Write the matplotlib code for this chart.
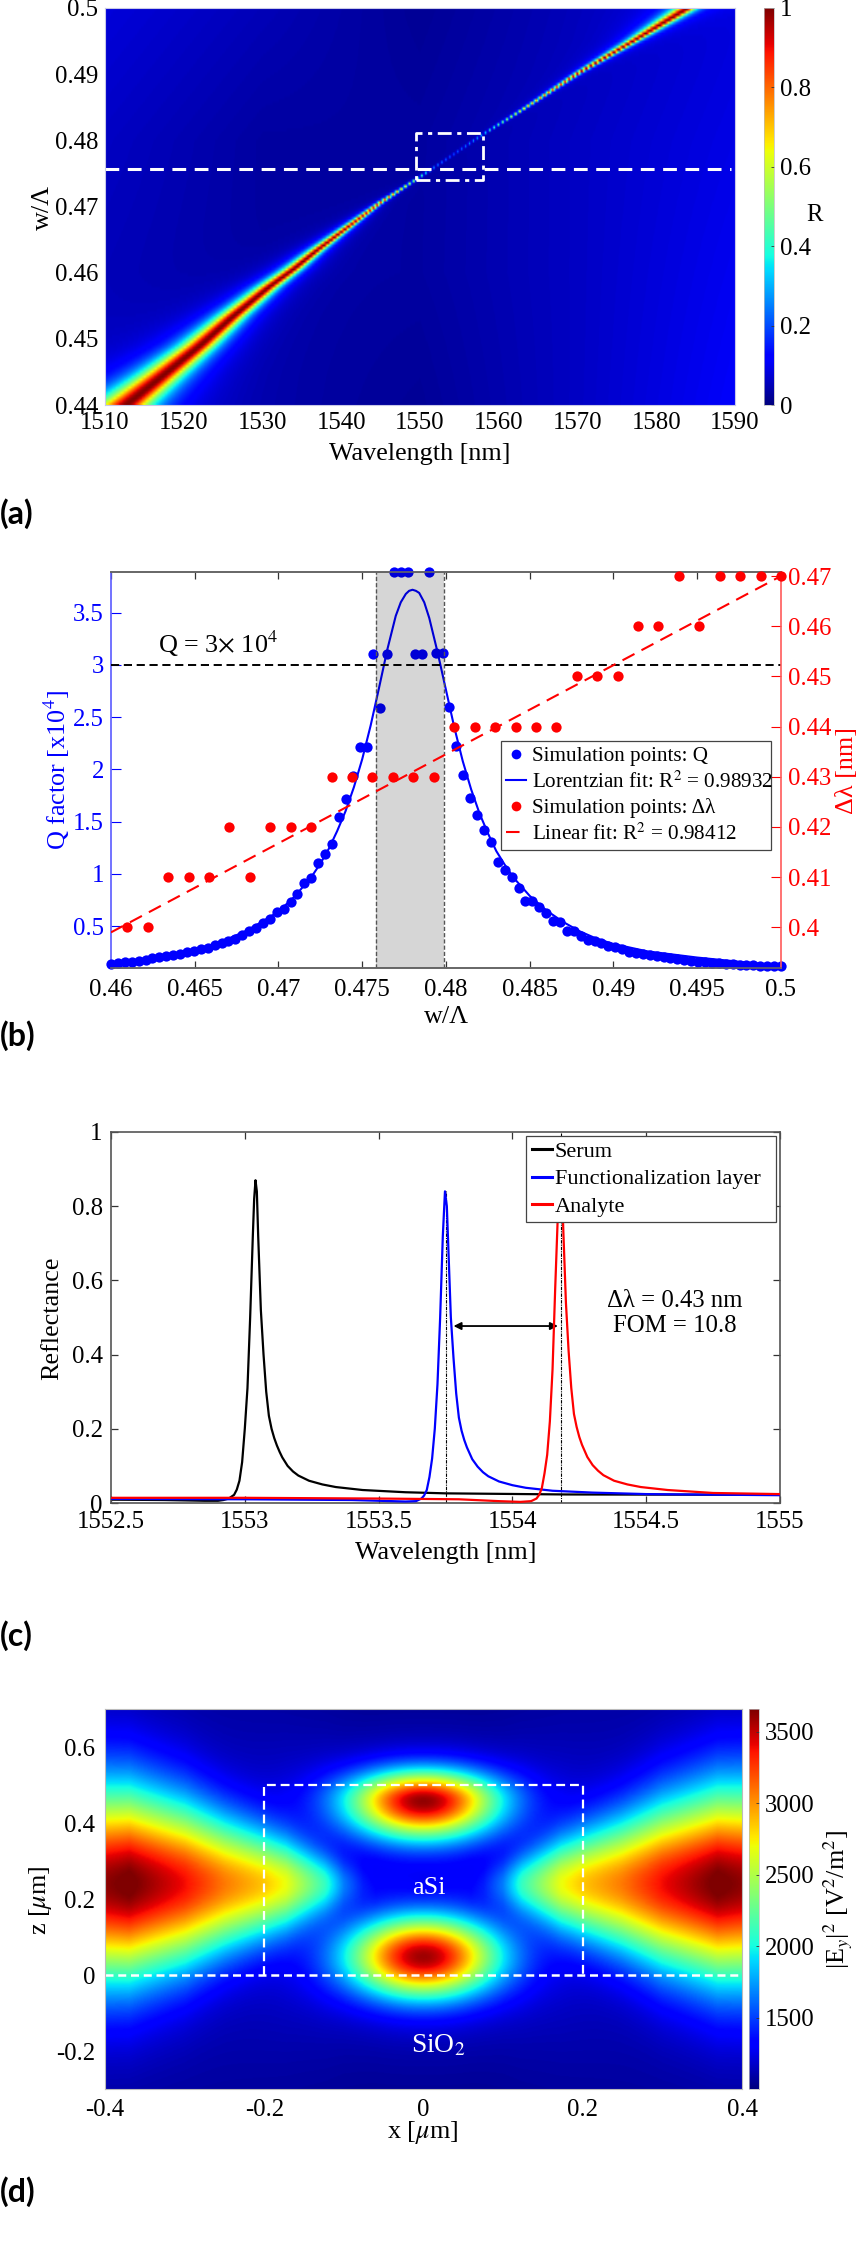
import numpy as np
import matplotlib
matplotlib.use('Agg')
import matplotlib.pyplot as plt
from matplotlib.lines import Line2D

plt.rcParams['font.family'] = ['Liberation Serif', 'DejaVu Serif']
plt.rcParams['mathtext.fontset'] = 'stix'
plt.rcParams['axes.unicode_minus'] = False

W, H = 861, 2241
FS = 17.8
LS = 18.8

# ---------- (a) ridge ----------
ridge_w = [0.44, 0.4444, 0.4488, 0.4533, 0.4577, 0.4605, 0.4633, 0.467, 0.4705, 0.474, 0.476, 0.478, 0.4808, 0.4846, 0.4904, 0.4950, 0.4994, 0.5]
ridge_lam = [1512.9, 1517.5, 1522.06, 1526.3, 1530.8, 1534.0, 1536.9, 1541.0, 1544.9, 1549.4, 1551.9, 1554.4, 1557.8, 1562.9, 1570.3, 1576.9, 1583.0, 1583.8]
ridge_hw = [3.0, 2.4, 1.9, 1.5, 1.15, 0.95, 0.75, 0.5, 0.27, 0.13, 0.09, 0.09, 0.10, 0.16, 0.3, 0.6, 1.05, 1.1]
ridge_peak = [1.0, 1.0, 1.0, 1.0, 1.0, 1.0, 1.0, 0.97, 0.87, 0.55, 0.25, 0.2, 0.3, 0.65, 0.95, 0.99, 1.0, 1.0]
bg_w = [0.44, 0.46, 0.48, 0.5]
bg_lam = [1510, 1530, 1550, 1570, 1590]
bg_vals = [[0.05, 0.03, 0.02, 0.06, 0.11],
           [0.05, 0.03, 0.03, 0.06, 0.10],
           [0.06, 0.03, 0.03, 0.06, 0.09],
           [0.08, 0.05, 0.02, 0.05, 0.08]]
cut_w = 0.4756
box_lam = [1549.5, 1558.0]
box_w = [0.474, 0.4811]

# ---------- (b) ----------
q_step_start, q_step_stop = 0.46, 0.5
q_vals = [0.139, 0.148, 0.155, 0.161, 0.171, 0.177, 0.193, 0.203, 0.212, 0.225, 0.235, 0.251, 0.260, 0.279, 0.295,
          0.318, 0.337, 0.356, 0.379, 0.420, 0.452, 0.484, 0.532, 0.567, 0.637, 0.666, 0.733, 0.807, 0.909, 0.963,
          1.104, 1.190, 1.286, 1.548, 1.721, 1.938, 2.216, 2.216, 3.105, 2.587, 3.105, 3.888, 3.888, 3.888, 3.105,
          3.105, 3.888, 3.117, 3.117, 2.597, 2.226, 1.948, 1.730, 1.561, 1.420, 1.302, 1.114, 1.040, 0.973, 0.864,
          0.740, 0.740, 0.682, 0.625, 0.554, 0.542, 0.458, 0.452, 0.407, 0.372, 0.363, 0.337, 0.315, 0.299, 0.286,
          0.257, 0.241, 0.232, 0.225, 0.212, 0.203, 0.196, 0.187, 0.177, 0.168, 0.161, 0.158, 0.152, 0.145, 0.139,
          0.136, 0.132, 0.129, 0.126, 0.123, 0.120, 0.116, 0.116]
fit_w = [0.46, 0.462, 0.464, 0.465, 0.466, 0.467, 0.468, 0.469, 0.47, 0.471, 0.472, 0.4725, 0.473, 0.4735, 0.474,
         0.4745, 0.475, 0.4755, 0.476, 0.4765, 0.477, 0.4773, 0.4776, 0.4778, 0.478, 0.4782, 0.4784, 0.4787, 0.479,
         0.4795, 0.48, 0.4805, 0.481, 0.4815, 0.482, 0.4825, 0.483, 0.4835, 0.484, 0.485, 0.486, 0.487, 0.488,
         0.489, 0.49, 0.492, 0.495, 0.5]
fit_q = [0.14, 0.18, 0.24, 0.28, 0.32, 0.38, 0.45, 0.54, 0.64, 0.79, 0.98, 1.10, 1.24, 1.41, 1.60,
         1.83, 2.10, 2.42, 2.78, 3.15, 3.47, 3.60, 3.68, 3.71, 3.72, 3.71, 3.69, 3.60, 3.45,
         3.12, 2.76, 2.40, 2.08, 1.81, 1.58, 1.39, 1.22, 1.09, 0.97, 0.79, 0.65, 0.54, 0.45,
         0.38, 0.33, 0.26, 0.20, 0.12]
dl_w = [0.46098, 0.4622, 0.46342, 0.46463, 0.46585, 0.46707, 0.46829, 0.46951, 0.47073, 0.47195, 0.47317, 0.47439,
        0.47561, 0.47683, 0.47805, 0.47927, 0.48049, 0.48171, 0.48293, 0.48415, 0.48537, 0.48659, 0.4878, 0.48902,
        0.49024, 0.49146, 0.49268, 0.4939, 0.49512, 0.49634, 0.49756, 0.49878, 0.5]
dl_vals = [0.40, 0.40, 0.41, 0.41, 0.41, 0.42, 0.41, 0.42, 0.42, 0.42, 0.43, 0.43, 0.43, 0.43, 0.43, 0.43, 0.44,
           0.44, 0.44, 0.44, 0.44, 0.44, 0.45, 0.45, 0.45, 0.46, 0.46, 0.47, 0.46, 0.47, 0.47, 0.47, 0.47]
lin_w = [0.46, 0.5]
lin_dl = [0.399, 0.47]
span_w = [0.4758, 0.4799]

# ---------- (c) ----------
serum_x = [1552.5, 1552.7, 1552.85, 1552.9, 1552.92, 1552.94, 1552.96, 1552.97, 1552.98, 1552.99, 1553.0, 1553.01,
           1553.02, 1553.03, 1553.035, 1553.04, 1553.045, 1553.05, 1553.055, 1553.06, 1553.07, 1553.08, 1553.09,
           1553.10, 1553.11, 1553.12, 1553.13, 1553.14, 1553.16, 1553.18, 1553.2, 1553.24, 1553.29, 1553.34,
           1553.44, 1553.6, 1553.75, 1554.2, 1555]
serum_r = [0.009, 0.008, 0.006, 0.006, 0.008, 0.012, 0.022, 0.036, 0.06, 0.11, 0.20, 0.31, 0.50, 0.72, 0.82, 0.87,
           0.84, 0.72, 0.62, 0.52, 0.40, 0.30, 0.235, 0.20, 0.175, 0.155, 0.138, 0.123, 0.10, 0.085, 0.074, 0.06,
           0.05, 0.043, 0.035, 0.029, 0.026, 0.023, 0.022]
func_x = [1552.5, 1553.0, 1553.4, 1553.55, 1553.6, 1553.64, 1553.66, 1553.67, 1553.68, 1553.69, 1553.70, 1553.71,
          1553.72, 1553.73, 1553.74, 1553.748, 1553.755, 1553.76, 1553.77, 1553.78, 1553.79, 1553.80, 1553.81,
          1553.82, 1553.83, 1553.85, 1553.87, 1553.89, 1553.91, 1553.95, 1554.0, 1554.05, 1554.15, 1554.3, 1554.5, 1555]
func_r = [0.011, 0.010, 0.008, 0.005, 0.004, 0.005, 0.012, 0.02, 0.035, 0.07, 0.12, 0.20, 0.32, 0.50, 0.72, 0.84,
          0.80, 0.70, 0.50, 0.39, 0.295, 0.23, 0.195, 0.17, 0.15, 0.118, 0.098, 0.083, 0.072, 0.058, 0.048, 0.041,
          0.033, 0.028, 0.024, 0.021]
analyte_x = [1552.5, 1553.0, 1553.5, 1553.8, 1553.95, 1554.03, 1554.07, 1554.09, 1554.10, 1554.11, 1554.12, 1554.13,
             1554.14, 1554.15, 1554.16, 1554.17, 1554.18, 1554.185, 1554.19, 1554.20, 1554.21, 1554.22, 1554.23,
             1554.24, 1554.25, 1554.26, 1554.28, 1554.30, 1554.32, 1554.34, 1554.38, 1554.43, 1554.48, 1554.58,
             1554.75, 1555]
analyte_r = [0.014, 0.014, 0.012, 0.010, 0.005, 0.003, 0.005, 0.012, 0.022, 0.04, 0.08, 0.13, 0.22, 0.36, 0.58,
             0.78, 0.90, 0.86, 0.74, 0.54, 0.41, 0.31, 0.24, 0.205, 0.178, 0.157, 0.124, 0.102, 0.087, 0.075, 0.06,
             0.05, 0.043, 0.035, 0.027, 0.024]
peak_marks = [1553.75, 1554.18]
peak_tops = [0.84, 1.0]
arrow_x = [1553.78, 1554.17]
arrow_r = 0.477

lobe_x = [0, 0.06, 0.076, 0.1, 0.124, 0.173, 0.2, 0.25, 0.3, 0.37, 0.4]
lobe_g = [0, 0.03, 0.07, 0.18, 0.36, 0.6, 0.67, 0.76, 0.88, 1.0, 0.97]
lobe_s = [0.03, 0.035, 0.04, 0.048, 0.058, 0.085, 0.098, 0.122, 0.148, 0.172, 0.175]
lobe_z = 0.24
blob_z = [0.458, 0.048]
blob_peak = [0.88, 0.87]
blob_sx = [0.066, 0.066]
blob_up = [0.056, 0.072]
blob_dn = [0.068, 0.075]
blob_tail = 0.085
field_min, field_max = 1000, 3660
core_x = [-0.2, 0.2]
core_z = [0.0, 0.5]


def fig_xy(x, y):
    return x / W, 1 - y / H


def add_axes(l, t, r, b):
    return fig.add_axes([l / W, 1 - b / H, (r - l) / W, (b - t) / H])


def place_labels(ax, xpos=None, ypos=None):
    if xpos:
        ax.xaxis.set_label_coords(*fig_xy(*xpos), transform=fig.transFigure)
        ax.xaxis.label.set_verticalalignment('center')
    if ypos:
        ax.yaxis.set_label_coords(*fig_xy(*ypos), transform=fig.transFigure)
        ax.yaxis.label.set_verticalalignment('center')


def style_spines(ax, color='#777777', lw=1.0):
    for s in ax.spines.values():
        s.set_color(color)
        s.set_linewidth(lw)


def make_cbar(l, t, r, b, vmin, vmax, ticks, labels):
    cax = add_axes(l, t, r, b)
    grad = np.linspace(vmin, vmax, 256)[:, None]
    cax.imshow(grad, origin='lower', aspect='auto', cmap='jet', extent=[0, 1, vmin, vmax], vmin=vmin, vmax=vmax)
    cax.set_xticks([])
    cax.yaxis.tick_right()
    cax.set_yticks(ticks)
    cax.set_yticklabels(labels, fontsize=FS)
    cax.tick_params(axis='y', direction='in', length=2.5, width=0.6, pad=4, color='#333333')
    style_spines(cax, '#bbbbbb', 0.5)
    return cax


fig = plt.figure(figsize=(W / 100, H / 100), dpi=100)

# ===== (a) =====
axa = add_axes(105, 8, 735, 405)
lam = np.arange(1510, 1590.01, 0.1)
rows = np.arange(0.44, 0.5002, 0.000408)
field_a = np.zeros((rows.size, lam.size))
bg_col = np.array([np.interp(lam, bg_lam, v) for v in bg_vals])
for i, w_ in enumerate(rows):
    c = np.interp(w_, ridge_w, ridge_lam)
    g = np.interp(w_, ridge_w, ridge_hw)
    p = np.interp(w_, ridge_w, ridge_peak)
    d = lam - c
    gg = np.where(d < 0, g * 1.3, g)
    base = np.array([np.interp(w_, bg_w, bg_col[:, j]) for j in range(lam.size)])
    rr = p / (1 + (d / gg) ** 2) ** 1.25
    field_a[i] = rr + base * (1 - rr)
axa.imshow(field_a, origin='lower', aspect='auto', cmap='jet', vmin=0, vmax=1,
           extent=[1510, 1590, 0.44, 0.5], interpolation='bilinear')
axa.plot([1510, 1589.5], [cut_w, cut_w], color='white', lw=2.2, dashes=(4.5, 2.8))
axa.plot([box_lam[0], box_lam[1], box_lam[1], box_lam[0], box_lam[0]],
         [box_w[0], box_w[0], box_w[1], box_w[1], box_w[0]], color='white', lw=2.0,
         dashes=(5, 2, 1.5, 2))
axa.set_xlim(1510, 1590)
axa.set_ylim(0.44, 0.5)
axa.set_xticks(range(1510, 1591, 10))
axa.set_yticks([0.44, 0.45, 0.46, 0.47, 0.48, 0.49, 0.5])
axa.set_yticklabels(['0.44', '0.45', '0.46', '0.47', '0.48', '0.49', '0.5'])
axa.tick_params(labelsize=FS, length=0, pad=5)
axa.set_xlabel('Wavelength [nm]', fontsize=LS)
axa.set_ylabel('w/\u039b', fontsize=LS)
place_labels(axa, (420, 454), (43, 207))
style_spines(axa, '#c8c8e8', 0.8)
make_cbar(764, 8, 774, 405, 0, 1, [0, 0.2, 0.4, 0.6, 0.8, 1], ['0', '0.2', '0.4', '0.6', '0.8', '1'])
fig.text(*fig_xy(815, 215), 'R', fontsize=FS, ha='center', va='center')

# ===== (b) =====
axb = add_axes(111, 572, 781, 968)
q_w = np.linspace(q_step_start, q_step_stop, len(q_vals))
blue = '#0000ff'
red = '#ff0000'
axb.plot(fit_w, fit_q, color=blue, lw=1.5, zorder=2)
axb.plot(q_w, q_vals, 'o', color=blue, ms=7.4, mec='none', zorder=3, clip_on=False)
axb.axvspan(span_w[0], span_w[1], facecolor='#000000', alpha=0.16, zorder=4, lw=0)
for v in span_w:
    axb.axvline(v, color='#555555', lw=1.0, dashes=(3, 1.5), zorder=5)
axb.axhline(3, color='black', lw=1.4, dashes=(4.2, 2.4), zorder=5)
axb.text(0.4628, 3.2, r'Q = 3$\times$ 10$^4$', fontsize=LS, ha='left', va='center', zorder=6)
axb.set_xlim(0.46, 0.5)
axb.set_ylim(0.1, 3.89)
axb.set_xticks([0.46, 0.465, 0.47, 0.475, 0.48, 0.485, 0.49, 0.495, 0.5])
axb.set_xticklabels(['0.46', '0.465', '0.47', '0.475', '0.48', '0.485', '0.49', '0.495', '0.5'])
axb.set_yticks([0.5, 1, 1.5, 2, 2.5, 3, 3.5])
axb.set_yticklabels(['0.5', '1', '1.5', '2', '2.5', '3', '3.5'])
axb.tick_params(axis='x', direction='in', top=True, length=5, width=0.9, labelsize=FS, pad=8, color='#333333')
axb.tick_params(axis='y', direction='in', length=7, width=0.8, labelsize=FS, pad=5, color=blue, labelcolor=blue)
axb.set_xlabel('w/\u039b', fontsize=LS)
axb.set_ylabel(r'Q factor [x10$^4$]', fontsize=LS, color=blue)
place_labels(axb, (447, 1017), (57, 770))
style_spines(axb, '#666666', 1.2)
axb.spines['left'].set_color('#5a5aff')
axb.spines['right'].set_visible(False)

axb2 = axb.twinx()
axb2.plot(dl_w, dl_vals, 'o', color=red, ms=7.4, mec='none', zorder=3, clip_on=False)
axb2.plot(lin_w, lin_dl, color=red, lw=1.5, dashes=(6.5, 3.8), zorder=2)
axb2.set_ylim(0.3919, 0.4708)
axb2.set_yticks([0.4, 0.41, 0.42, 0.43, 0.44, 0.45, 0.46, 0.47])
axb2.set_yticklabels(['0.4', '0.41', '0.42', '0.43', '0.44', '0.45', '0.46', '0.47'])
axb2.tick_params(axis='y', direction='in', length=7, width=0.8, labelsize=FS, pad=5, color=red, labelcolor=red)
axb2.set_ylabel('\u0394\u03bb [nm]', fontsize=LS, color=red)
place_labels(axb2, None, (847, 770))
style_spines(axb2, '#666666', 1.2)
axb2.spines['right'].set_color('#ff5a5a')
axb2.spines['left'].set_visible(False)
handles_b = [
    Line2D([], [], marker='o', color=blue, ms=7, ls='none', mec='none'),
    Line2D([], [], color=blue, lw=1.5),
    Line2D([], [], marker='o', color=red, ms=7, ls='none', mec='none'),
    Line2D([], [], color=red, lw=1.5, dashes=(6.5, 3.8)),
]
labels_b = ['Simulation points: Q', r'Lorentzian fit: R$^2$ = 0.98932',
            'Simulation points: \u0394\u03bb', r'Linear fit: R$^2$ = 0.98412']
lx0, ly0, lx1, ly1 = 501, 741, 771, 855
leg = axb2.legend(handles_b, labels_b, loc='upper left',
                  bbox_to_anchor=(lx0 / W, 1 - ly1 / H, (lx1 - lx0) / W, (ly1 - ly0) / H),
                  bbox_transform=fig.transFigure, mode='expand', borderaxespad=0, fontsize=15.2,
                  fancybox=False, framealpha=1, edgecolor='#444444', handlelength=0.95, handletextpad=0.25,
                  labelspacing=0.25, borderpad=0.25)
leg.get_frame().set_linewidth(0.9)
leg.set_zorder(20)

# ===== (c) =====
axc = add_axes(111, 1132, 780, 1503)
for x_, t_ in zip(peak_marks, peak_tops):
    axc.plot([x_, x_], [0, t_], color='black', lw=0.8, dashes=(3, 1, 1, 1), zorder=1)
axc.plot(serum_x, serum_r, color='black', lw=1.6, label='Serum', zorder=2)
axc.plot(func_x, func_r, color=blue, lw=1.6, label='Functionalization layer', zorder=3)
axc.plot(analyte_x, analyte_r, color=red, lw=1.6, label='Analyte', zorder=4)
axc.annotate('', xy=(arrow_x[0], arrow_r), xytext=(arrow_x[1], arrow_r),
             arrowprops=dict(arrowstyle='<|-|>', color='black', lw=1.3, shrinkA=0, shrinkB=0, mutation_scale=11))
axc.text(1554.606, 0.545, '\u0394\u03bb = 0.43 nm', fontsize=FS, ha='center', va='center')
axc.text(1554.606, 0.477, 'FOM = 10.8', fontsize=FS, ha='center', va='center')
axc.set_xlim(1552.5, 1555)
axc.set_ylim(0, 1)
axc.set_xticks([1552.5, 1553, 1553.5, 1554, 1554.5, 1555])
axc.set_xticklabels(['1552.5', '1553', '1553.5', '1554', '1554.5', '1555'])
axc.set_yticks([0, 0.2, 0.4, 0.6, 0.8, 1])
axc.set_yticklabels(['0', '0.2', '0.4', '0.6', '0.8', '1'])
axc.tick_params(direction='in', top=True, right=True, length=5, width=0.9, labelsize=FS, pad=6, color='#333333')
axc.set_xlabel('Wavelength [nm]', fontsize=LS)
axc.set_ylabel('Reflectance', fontsize=LS)
place_labels(axc, (446, 1553), (52, 1318))
style_spines(axc, '#555555', 1.2)
lx0, ly0, lx1, ly1 = 526, 1136, 776, 1216
leg = axc.legend(loc='upper left', bbox_to_anchor=(lx0 / W, 1 - ly1 / H, (lx1 - lx0) / W, (ly1 - ly0) / H),
                 bbox_transform=fig.transFigure, mode='expand', borderaxespad=0, fontsize=16,
                 fancybox=False, framealpha=1, edgecolor='#444444', handlelength=0.9, handletextpad=0.15,
                 labelspacing=0.3, borderpad=0.25)
leg.get_frame().set_linewidth(0.9)
for ln in leg.get_lines():
    ln.set_linewidth(2.2)

# ===== (d) =====
axd = add_axes(105, 1709, 742, 2089)
xs = np.linspace(-0.4, 0.4, 500)
zs = np.linspace(-0.3, 0.7, 500)
X, Z = np.meshgrid(xs, zs)
ax_ = np.abs(X)
g = np.interp(ax_, lobe_x, lobe_g)
s = np.interp(ax_, lobe_x, lobe_s)
lobes = g * (np.exp(-(Z - lobe_z) ** 2 / (2 * s ** 2)) * 0.93 + 0.07 * np.exp(-(Z - lobe_z) ** 2 / (2 * 0.33 ** 2)))
field_d = 0.015 + lobes
for zc, pk, sx, su, sd in zip(blob_z, blob_peak, blob_sx, blob_up, blob_dn):
    sz = np.where(Z > zc, su, sd)
    dd = (X / sx) ** 2 + ((Z - zc) / sz) ** 2
    tail = blob_tail * np.exp(-0.5 * ((X / 0.11) ** 2 + ((Z - zc) / (2.1 * sz)) ** 2))
    field_d = field_d + pk * np.exp(-0.5 * dd) + tail
field_d = field_min + (field_max - field_min) * np.clip(field_d, 0, 1)
axd.imshow(field_d, origin='lower', aspect='auto', cmap='jet', vmin=field_min, vmax=field_max,
           extent=[-0.4, 0.4, -0.3, 0.7], interpolation='bilinear')
axd.plot([-0.4, 0.4], [0, 0], color='white', lw=1.8, dashes=(3.2, 1.9))
axd.plot([core_x[0], core_x[0], core_x[1], core_x[1]], [core_z[0], core_z[1], core_z[1], core_z[0]],
         color='white', lw=1.6, dashes=(4, 2.2))
axd.text(0.0065, 0.23, 'aSi', color='white', fontsize=LS, ha='center', va='center')
axd.text(0.018, -0.186, r'SiO$_2$', color='white', fontsize=LS + 1, ha='center', va='center')
axd.set_xlim(-0.4, 0.4)
axd.set_ylim(-0.3, 0.7)
axd.set_xticks([-0.4, -0.2, 0, 0.2, 0.4])
axd.set_xticklabels(['-0.4', '-0.2', '0', '0.2', '0.4'])
axd.set_yticks([-0.2, 0, 0.2, 0.4, 0.6])
axd.set_yticklabels(['-0.2', '0', '0.2', '0.4', '0.6'])
axd.tick_params(labelsize=FS, length=0, pad=7)
axd.set_xlabel(r'x [$\mu$m]', fontsize=LS)
axd.set_ylabel(r'z [$\mu$m]', fontsize=LS)
place_labels(axd, (423, 2132), (41, 1900))
style_spines(axd, '#bbbbbb', 0.8)
make_cbar(749, 1709, 759, 2089, field_min, field_max, [1500, 2000, 2500, 3000, 3500],
          ['1500', '2000', '2500', '3000', '3500'])
fig.text(*fig_xy(838, 1900), r'|E$_y$|$^2$ [V$^2$/m$^2$]', fontsize=LS, rotation=90, ha='center', va='center')

# ===== panel letters =====
for lab, y in zip(['(a)', '(b)', '(c)', '(d)'], [514, 1036, 1636, 2192]):
    fig.text(0 / W, 1 - y / H, lab, fontsize=23, fontweight='bold', family=['Lato', 'DejaVu Sans'],
             ha='left', va='center')

fig.savefig('out.png', dpi=100)
